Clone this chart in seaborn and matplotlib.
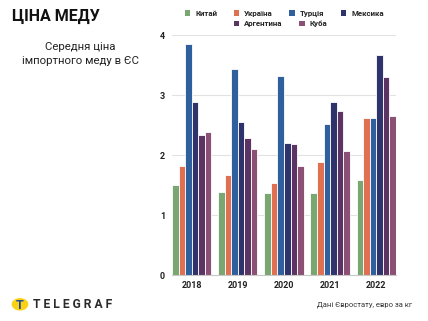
import numpy as np
import pandas as pd
import matplotlib
matplotlib.use("Agg")
import matplotlib.pyplot as plt
import seaborn as sns
from matplotlib.patches import Circle, Patch

years = ["2018", "2019", "2020", "2021", "2022"]
countries = ["Китай", "Україна", "Турція", "Мексика", "Аргентина", "Куба"]
china = [1.51, 1.39, 1.37, 1.37, 1.58]
ukraine = [1.82, 1.67, 1.53, 1.88, 2.62]
turkey = [3.86, 3.44, 3.32, 2.52, 2.62]
mexico = [2.88, 2.56, 2.21, 2.88, 3.67]
argentina = [2.34, 2.28, 2.19, 2.74, 3.30]
cuba = [2.39, 2.11, 1.82, 2.07, 2.65]
yticks = [0, 1, 2, 3, 4]

colors = ["#79a671", "#df7152", "#2f5f9c", "#2f336b", "#5c3464", "#8b5174"]

series = [china, ukraine, turkey, mexico, argentina, cuba]
df = pd.DataFrame({
    "year": [y for s in series for y in years],
    "country": [c for c, s in zip(countries, series) for _ in s],
    "value": [v for s in series for v in s],
})

sns.set_theme(style="white")
plt.rcParams['font.family'] = ['Roboto', 'DejaVu Sans']

fig = plt.figure(figsize=(4.28, 3.21), dpi=100)
ax = fig.add_axes([0.402, 0.143, 0.523, 0.747])

sns.barplot(data=df, x="year", y="value", hue="country", order=years,
            hue_order=countries, palette=colors, width=0.85,
            edgecolor="white", linewidth=0.6, saturation=1, ax=ax,
            legend=False, errorbar=None)

ax.set_ylim(0, 4)
ax.set_xlim(-0.43, 4.43)
ax.set_yticks(yticks)
ax.set_yticklabels([str(t) for t in yticks], fontsize=6.5, fontweight='bold', color='#222222')
ax.set_xticklabels(years, fontsize=6.5, fontweight='bold', color='#222222')
ax.set_xlabel("")
ax.set_ylabel("")
ax.tick_params(axis='y', length=0, pad=5)
ax.tick_params(axis='x', length=0, pad=4)
ax.grid(axis='y', color='#e2e2e2', linewidth=0.8)
ax.set_axisbelow(True)
for s in ["left", "right", "top"]:
    ax.spines[s].set_visible(False)
ax.spines["bottom"].set_color("#c8c8c8")
ax.spines["bottom"].set_linewidth(0.8)

# legends
h1 = [Patch(facecolor=c, edgecolor='none') for c in colors[:4]]
h2 = [Patch(facecolor=c, edgecolor='none') for c in colors[4:]]
leg1 = fig.legend(h1, countries[:4], loc='center', bbox_to_anchor=(0.664, 0.958),
                  ncol=4, frameon=False, handlelength=0.7, handleheight=0.7,
                  handletextpad=0.6, columnspacing=2.1,
                  prop={'size': 5.7, 'weight': 'bold'})
leg2 = fig.legend(h2, countries[4:], loc='center', bbox_to_anchor=(0.655, 0.926),
                  ncol=2, frameon=False, handlelength=0.7, handleheight=0.7,
                  handletextpad=0.6, columnspacing=2.1,
                  prop={'size': 5.7, 'weight': 'bold'})

# titles
fig.text(0.028, 0.948, "ЦІНА МЕДУ", fontsize=11.5, fontweight='bold', color='#111111',
         ha='left', va='center')
fig.text(0.187, 0.832, "Середня ціна\nімпортного меду в ЄС", fontsize=8.2,
         color='#222222', ha='center', va='center', linespacing=1.45)

# footer
fig.text(0.962, 0.05, "Дані Євростату, евро за кг", fontsize=5.5, color='#333333',
         ha='right', va='center')
circ = Circle((0.0467, 0.052), 0.0195, transform=fig.transFigure, facecolor='#fcd116',
              edgecolor='none')
fig.add_artist(circ)
fig.text(0.0467, 0.049, "T", fontsize=9, fontweight='bold', color='#1f4f9c',
         ha='center', va='center')
fig.text(0.076, 0.052, "T E L E G R A F", fontsize=8.7, fontweight='bold', color='#2a2a2a',
         ha='left', va='center')

fig.savefig("out.png", dpi=100)
